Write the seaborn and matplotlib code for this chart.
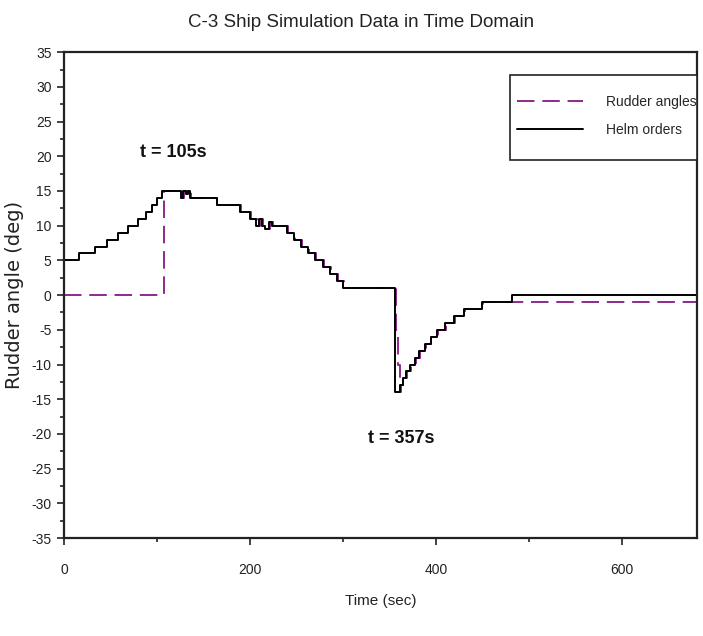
import matplotlib
matplotlib.use("Agg")
import matplotlib.pyplot as plt
import seaborn as sns
import pandas as pd
from matplotlib.ticker import MultipleLocator
from matplotlib.patches import Rectangle

# ---- data ----
helm_t = [0, 16, 33, 46, 58, 69, 80, 88, 95, 100, 105, 126, 128, 131, 133, 135,
          164, 189, 200, 206, 210, 213, 216, 220, 224, 232, 240, 247, 255, 262,
          270, 278, 286, 293, 300, 356, 361, 364, 368, 372, 377, 382, 388,
          394, 401, 410, 419, 430, 449, 482, 680]
helm_v = [5, 6, 7, 8, 9, 10, 11, 12, 13, 14, 15, 14, 15, 14.5, 15, 14,
          13, 12, 11, 10, 11, 10, 9.5, 10.5, 10, 10, 9, 8, 7, 6,
          5, 4, 3, 2, 1, -14, -13, -12, -11, -10, -9, -8, -7,
          -6, -5, -4, -3, -2, -1, 0, 0]

rudder_t = [0, 105, 107, 127, 129, 132, 134, 136,
            165, 190, 201, 207, 211, 214, 217, 221, 225, 233, 241, 248, 256, 263,
            271, 279, 287, 294, 301, 357, 359, 361, 362, 365, 369, 373, 378, 383,
            389, 395, 402, 411, 420, 431, 450, 680]
rudder_v = [0, 0, 15, 14, 15, 14.5, 15, 14,
            13, 12, 11, 10, 11, 10, 9.5, 10.5, 10, 10, 9, 8, 7, 6,
            5, 4, 3, 2, 1, -5, -10, -14, -13, -12, -11, -10, -9, -8,
            -7, -6, -5, -4, -3, -2, -1, -1]

x_ticks = [0, 200, 400, 600]
y_ticks = list(range(-35, 36, 5))

title_text = "C-3 Ship Simulation Data in Time Domain"
xlabel_text = "Time (sec)"
ylabel_text = "Rudder angle (deg)"
ann1 = ("t = 105s", 118, 20.5)
ann2 = ("t = 357s", 362, -20.6)

# ---- style ----
sns.set_theme(style="ticks")
sans = ["Liberation Sans", "DejaVu Sans"]
plt.rcParams["font.family"] = sans
plt.rcParams["axes.unicode_minus"] = False

purple = "#8e2a8e"
ink = "#222222"

fig = plt.figure(figsize=(7.03, 6.36), dpi=100)
ax = fig.add_axes([0.091, 0.154, 0.900, 0.764])

df_r = pd.DataFrame({"t": rudder_t, "v": rudder_v})
df_h = pd.DataFrame({"t": helm_t, "v": helm_v})

sns.lineplot(data=df_r, x="t", y="v", ax=ax, color=purple, lw=1.4,
             drawstyle="steps-post", estimator=None, sort=False,
             label="Rudder angles")
ax.lines[-1].set_dashes((9, 4))
sns.lineplot(data=df_h, x="t", y="v", ax=ax, color="black", lw=1.4,
             drawstyle="steps-post", estimator=None, sort=False,
             label="Helm orders")

ax.set_xlim(0, 680)
ax.set_ylim(-35, 35)
ax.set_xticks(x_ticks)
ax.set_yticks(y_ticks)
ax.xaxis.set_minor_locator(MultipleLocator(100))
ax.yaxis.set_minor_locator(MultipleLocator(2.5))
ax.tick_params(axis="both", which="major", direction="out", length=5, width=1.2,
               labelsize=10, colors=ink, pad=4)
ax.tick_params(axis="both", which="minor", direction="out", length=3, width=1.2,
               colors=ink)
ax.tick_params(axis="x", pad=13)
for s in ax.spines.values():
    s.set_visible(True)
    s.set_linewidth(1.6)
    s.set_color(ink)

ax.set_title(title_text, fontsize=13.5, pad=18, color=ink, x=0.47)
ax.set_xlabel(xlabel_text, fontsize=11, labelpad=12, color=ink)
ax.set_ylabel(ylabel_text, fontsize=14, labelpad=5, color=ink,
              family=["DejaVu Sans"])

for txt, tx, ty in (ann1, ann2):
    ax.text(tx, ty, txt, fontsize=13, fontweight="bold", ha="center", va="center",
            color="#111111")

# legend frame drawn separately (tall box with tight horizontal padding)
ax.add_patch(Rectangle((0.705, 0.778), 0.295, 0.175, transform=ax.transAxes,
                       facecolor="white", edgecolor=ink, linewidth=1.2,
                       zorder=4, clip_on=False))
leg = ax.legend(loc="center left", bbox_to_anchor=(0.7156, 0.868), fontsize=10,
                frameon=False, handlelength=4.75, labelspacing=1.0,
                borderpad=0, handletextpad=1.65, borderaxespad=0)
leg.set_zorder(5)

fig.savefig("out.png", dpi=100)
